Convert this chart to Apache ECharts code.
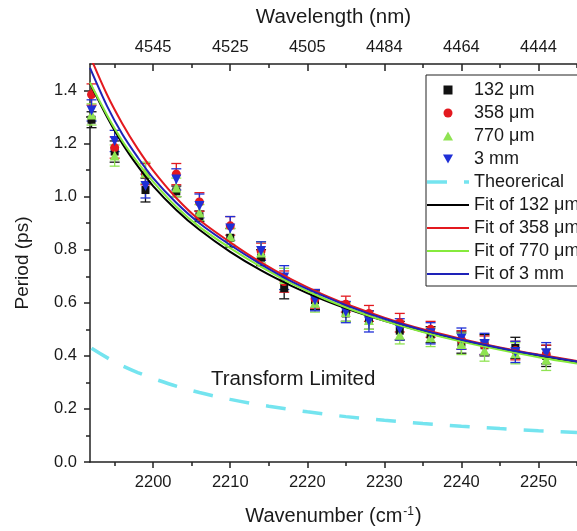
<!DOCTYPE html>
<html>
<head>
<meta charset="utf-8">
<script src="https://cdn.jsdelivr.net/npm/echarts@6/dist/echarts.min.js"></script>
<style>
  html, body { margin: 0; padding: 0; background: #fff; }
  #chart { width: 577px; height: 531px; }
</style>
</head>
<body>
<div id="chart"></div>
<script>
// Measured periods (ps) vs wavenumber (cm^-1) for four sample lengths
const wavenumber = [2192, 2195, 2199, 2203, 2206, 2210, 2214, 2217, 2221, 2225, 2228, 2232, 2236, 2240, 2243, 2247, 2251];

const period132 = [1.29, 1.17, 1.025, 1.02, 0.926, 0.845, 0.77, 0.655, 0.61, 0.56, 0.535, 0.495, 0.48, 0.45, 0.44, 0.43, 0.40];
const err132    = [0.03, 0.04, 0.045, 0.02, 0.02, 0.035, 0.03, 0.04, 0.035, 0.03, 0.035, 0.035, 0.03, 0.04, 0.04, 0.04, 0.04];

const period358 = [1.385, 1.185, 1.085, 1.085, 0.98, 0.89, 0.795, 0.68, 0.615, 0.595, 0.56, 0.525, 0.50, 0.46, 0.44, 0.42, 0.405];
const err358    = [0.04, 0.04, 0.04, 0.04, 0.035, 0.035, 0.03, 0.04, 0.035, 0.03, 0.03, 0.035, 0.03, 0.035, 0.035, 0.035, 0.035];

const period770 = [1.31, 1.155, 1.09, 1.035, 0.94, 0.85, 0.79, 0.69, 0.60, 0.565, 0.535, 0.48, 0.47, 0.445, 0.42, 0.41, 0.385];
const err770    = [0.04, 0.04, 0.04, 0.035, 0.03, 0.03, 0.04, 0.04, 0.035, 0.035, 0.035, 0.035, 0.035, 0.04, 0.04, 0.04, 0.04];

const period3mm = [1.325, 1.21, 1.04, 1.065, 0.965, 0.88, 0.795, 0.695, 0.61, 0.565, 0.53, 0.50, 0.485, 0.465, 0.445, 0.415, 0.41];
const err3mm    = [0.04, 0.04, 0.045, 0.04, 0.045, 0.045, 0.035, 0.045, 0.04, 0.04, 0.04, 0.04, 0.04, 0.04, 0.04, 0.04, 0.04];

// Fitted curves
const fitWavenumber = [2191.8, 2194, 2196, 2198, 2200, 2203, 2206, 2210, 2214, 2218, 2222, 2226, 2230, 2235, 2240, 2245, 2250, 2255];
const fit132 = [1.427, 1.301, 1.200, 1.115, 1.040, 0.950, 0.875, 0.792, 0.722, 0.663, 0.612, 0.569, 0.532, 0.492, 0.457, 0.427, 0.400, 0.377];
const fit358 = [1.530, 1.385, 1.275, 1.180, 1.098, 0.995, 0.912, 0.828, 0.752, 0.687, 0.632, 0.585, 0.544, 0.500, 0.464, 0.432, 0.405, 0.381];
const fit770 = [1.430, 1.308, 1.210, 1.128, 1.056, 0.962, 0.886, 0.806, 0.735, 0.672, 0.618, 0.572, 0.532, 0.490, 0.454, 0.423, 0.395, 0.371];
const fit3mm = [1.485, 1.342, 1.235, 1.148, 1.070, 0.977, 0.900, 0.818, 0.745, 0.680, 0.627, 0.580, 0.540, 0.497, 0.461, 0.430, 0.403, 0.379];

// Transform-limited (theoretical) period
const theoryWavenumber = [2192, 2195, 2198, 2202, 2206, 2210, 2215, 2220, 2225, 2230, 2235, 2240, 2245, 2250, 2255];
const theoryPeriod     = [0.429, 0.377, 0.337, 0.295, 0.262, 0.236, 0.210, 0.189, 0.171, 0.157, 0.145, 0.135, 0.126, 0.118, 0.111];

// Axis ticks and labels
const xTicks = [2200, 2210, 2220, 2230, 2240, 2250];
const xMinorTicks = [2195, 2205, 2215, 2225, 2235, 2245, 2255];
const wavelengthLabels = ['4545', '4525', '4505', '4484', '4464', '4444'];
const yTicks = [0, 0.2, 0.4, 0.6, 0.8, 1.0, 1.2, 1.4];
const yTickLabels = ['0.0', '0.2', '0.4', '0.6', '0.8', '1.0', '1.2', '1.4'];
const yMinorTicks = [0.1, 0.3, 0.5, 0.7, 0.9, 1.1, 1.3];

const FONT = '"Liberation Sans", Arial, sans-serif';
const AXIS_COLOR = '#222';
const TEXT_COLOR = '#1a1a1a';

const COLORS = {
  k: '#111111',
  r: '#e3191f',
  g: '#8fe352',
  b: '#1f2fd6',
  cyan: '#74e4ef',
  fitK: '#000000',
  fitR: '#e3191f',
  fitG: '#86ea3c',
  fitB: '#1e22b8'
};

// Marker and legend glyphs
const SQUARE = 'path://M0,0H8V8H0Z';
const TRIANGLE = 'path://M5,0L10,9L0,9Z';
const INV_TRIANGLE = 'path://M0,0L10,0L5,9Z';
const SOLID_KEY = 'path://M0,0H42V2H0Z';
const DASHED_KEY = 'path://M0,0H20V3.5H0Z M37,0H42V3.5H37Z';

function zip(xs, ys) { return xs.map((x, i) => [x, ys[i]]); }
function zipErr(xs, ys, es) { return xs.map((x, i) => [x, ys[i], es[i]]); }

function renderErrorBar(params, api) {
  const x = api.value(0), y = api.value(1), e = api.value(2);
  const top = api.coord([x, y + e]);
  const bot = api.coord([x, y - e]);
  const hw = 5;
  const style = { stroke: api.visual('color'), lineWidth: 1.3 };
  return {
    type: 'group',
    children: [
      { type: 'line', shape: { x1: top[0], y1: top[1], x2: bot[0], y2: bot[1] }, style },
      { type: 'line', shape: { x1: top[0] - hw, y1: top[1], x2: top[0] + hw, y2: top[1] }, style },
      { type: 'line', shape: { x1: bot[0] - hw, y1: bot[1], x2: bot[0] + hw, y2: bot[1] }, style }
    ]
  };
}

function errorSeries(name, ys, es, color) {
  return {
    name: name + ' error',
    type: 'custom',
    renderItem: renderErrorBar,
    data: zipErr(wavenumber, ys, es),
    encode: { x: 0, y: 1 },
    itemStyle: { color: color },
    z: 2,
    silent: true
  };
}

function markerSeries(name, ys, symbol, size, color) {
  return {
    name: name,
    type: 'scatter',
    data: zip(wavenumber, ys),
    symbol: symbol,
    symbolSize: size,
    itemStyle: { color: color, opacity: 1 },
    z: 3
  };
}

function fitSeries(name, ys, color) {
  return {
    name: name,
    type: 'line',
    data: zip(fitWavenumber, ys),
    smooth: 0.3,
    symbol: 'none',
    lineStyle: { color: color, width: 2 },
    itemStyle: { color: color },
    z: 4
  };
}

const chart = echarts.init(document.getElementById('chart'), null, { renderer: 'canvas' });

const option = {
  backgroundColor: '#ffffff',
  animation: false,
  textStyle: { fontFamily: FONT },
  grid: { left: 90, right: -10, top: 64, bottom: 68, containLabel: false },
  xAxis: [
    {
      type: 'value', position: 'bottom', min: 2191.8, max: 2255,
      axisLine: { show: true, lineStyle: { color: AXIS_COLOR, width: 1.5 } },
      axisTick: { show: true, customValues: xTicks, length: 6, lineStyle: { color: AXIS_COLOR, width: 1.5 } },
      axisLabel: { customValues: xTicks, fontSize: 16.5, color: TEXT_COLOR, margin: 12, fontFamily: FONT,
                   formatter: (v) => String(v) },
      splitLine: { show: false },
      name: 'Wavenumber (cm{sup|-1})',
      nameLocation: 'middle', nameGap: 44,
      nameTextStyle: { fontSize: 20, color: TEXT_COLOR, fontFamily: FONT,
                       rich: { sup: { fontSize: 12, color: TEXT_COLOR, fontFamily: FONT, verticalAlign: 'top', padding: [0, 1, 0, 1] } } }
    },
    {
      type: 'value', position: 'bottom', min: 2191.8, max: 2255,
      axisLine: { show: false },
      axisTick: { show: true, customValues: xMinorTicks, length: 4, lineStyle: { color: AXIS_COLOR, width: 1.5 } },
      axisLabel: { show: false },
      splitLine: { show: false }
    },
    {
      type: 'value', position: 'top', min: 2191.8, max: 2255,
      axisLine: { show: true, lineStyle: { color: AXIS_COLOR, width: 1.5 } },
      axisTick: { show: true, inside: true, customValues: xTicks, length: 7, lineStyle: { color: AXIS_COLOR, width: 1.5 } },
      axisLabel: { customValues: xTicks, fontSize: 16.5, color: TEXT_COLOR, margin: 8, fontFamily: FONT,
                   formatter: (v) => wavelengthLabels[xTicks.indexOf(v)] },
      splitLine: { show: false },
      name: 'Wavelength (nm)',
      nameLocation: 'middle', nameGap: 36,
      nameTextStyle: { fontSize: 20.5, color: TEXT_COLOR, fontFamily: FONT }
    },
    {
      type: 'value', position: 'top', min: 2191.8, max: 2255,
      axisLine: { show: false },
      axisTick: { show: true, inside: true, customValues: xMinorTicks, length: 4, lineStyle: { color: AXIS_COLOR, width: 1.5 } },
      axisLabel: { show: false },
      splitLine: { show: false }
    }
  ],
  yAxis: [
    {
      type: 'value', position: 'left', min: 0, max: 1.5,
      axisLine: { show: true, lineStyle: { color: AXIS_COLOR, width: 1.5 } },
      axisTick: { show: true, customValues: yTicks, length: 6, lineStyle: { color: AXIS_COLOR, width: 1.5 } },
      axisLabel: { customValues: yTicks, fontSize: 16.5, color: TEXT_COLOR, margin: 13, fontFamily: FONT,
                   formatter: (v) => yTickLabels[yTicks.findIndex(t => Math.abs(t - v) < 1e-6)] },
      splitLine: { show: false },
      name: 'Period (ps)',
      nameLocation: 'middle', nameGap: 58, nameRotate: 90,
      nameTextStyle: { fontSize: 19, color: TEXT_COLOR, fontFamily: FONT }
    },
    {
      type: 'value', position: 'left', min: 0, max: 1.5,
      axisLine: { show: false },
      axisTick: { show: true, customValues: yMinorTicks, length: 4, lineStyle: { color: AXIS_COLOR, width: 1.5 } },
      axisLabel: { show: false },
      splitLine: { show: false }
    }
  ],
  legend: {
    orient: 'vertical',
    left: 426, top: 75,
    itemWidth: 42, itemHeight: 9, itemGap: 5,
    padding: [6, 40, 3, 1],
    borderColor: AXIS_COLOR, borderWidth: 1,
    backgroundColor: '#ffffff',
    symbolKeepAspect: true,
    textStyle: { fontSize: 18, color: TEXT_COLOR, lineHeight: 17, fontFamily: FONT },
    data: [
      { name: '132 μm', icon: SQUARE },
      { name: '358 μm', icon: 'circle' },
      { name: '770 μm', icon: TRIANGLE },
      { name: '3 mm', icon: INV_TRIANGLE },
      { name: 'Theorerical', icon: DASHED_KEY },
      { name: 'Fit of 132 μm', icon: SOLID_KEY },
      { name: 'Fit of 358 μm', icon: SOLID_KEY },
      { name: 'Fit of 770 μm', icon: SOLID_KEY },
      { name: 'Fit of 3 mm', icon: SOLID_KEY }
    ]
  },
  graphic: [
    {
      type: 'text', left: 211, top: 369, z: 10,
      style: { text: 'Transform Limited', fontSize: 20.5, fontFamily: FONT, fill: TEXT_COLOR }
    }
  ],
  series: [
    errorSeries('132 μm', period132, err132, COLORS.k),
    errorSeries('358 μm', period358, err358, COLORS.r),
    errorSeries('770 μm', period770, err770, COLORS.g),
    errorSeries('3 mm', period3mm, err3mm, COLORS.b),
    markerSeries('132 μm', period132, SQUARE, 8, COLORS.k),
    markerSeries('358 μm', period358, 'circle', 9, COLORS.r),
    markerSeries('770 μm', period770, TRIANGLE, 10, COLORS.g),
    markerSeries('3 mm', period3mm, INV_TRIANGLE, 10, COLORS.b),
    {
      name: 'Theorerical',
      type: 'line',
      data: zip(theoryWavenumber, theoryPeriod),
      smooth: 0.3,
      symbol: 'none',
      lineStyle: { color: COLORS.cyan, width: 3.5, type: [20, 17] },
      itemStyle: { color: COLORS.cyan },
      z: 4
    },
    fitSeries('Fit of 132 μm', fit132, COLORS.fitK),
    fitSeries('Fit of 358 μm', fit358, COLORS.fitR),
    fitSeries('Fit of 770 μm', fit770, COLORS.fitG),
    fitSeries('Fit of 3 mm', fit3mm, COLORS.fitB)
  ]
};

chart.setOption(option);
</script>
</body>
</html>
